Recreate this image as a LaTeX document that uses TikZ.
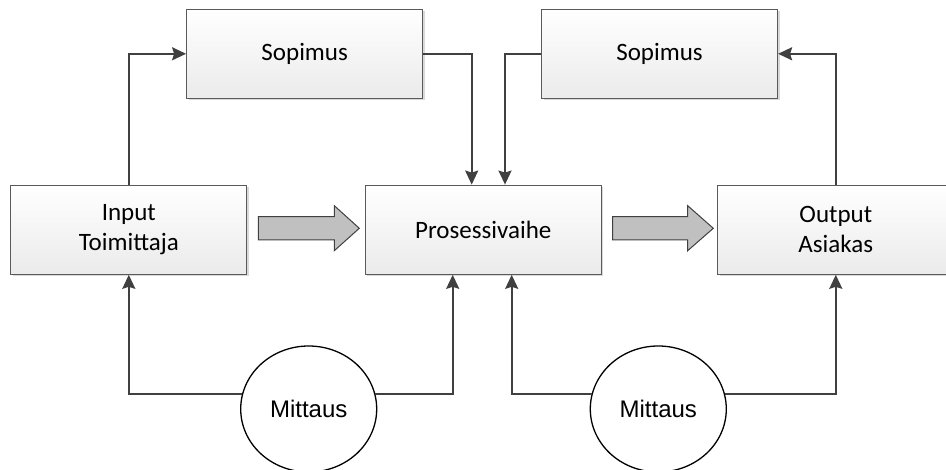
\documentclass[tikz,border=0pt]{standalone}
\usepackage{fontspec}
\setmainfont{Carlito}
\newfontfamily\arialfont{Liberation Sans}
\usetikzlibrary{arrows.meta,shapes.geometric,shadows}
\definecolor{linegray}{HTML}{404040}
\definecolor{boxborder}{HTML}{5A5A5A}
\definecolor{arrowfill}{HTML}{C0C0C0}
\tikzset{
  stagebox/.style={draw=boxborder, line width=1.2pt, top color=white, bottom color=black!8,
    minimum width=236pt, minimum height=89pt, inner sep=0pt, align=center,
    font=\fontsize{25}{30}\selectfont,
    drop shadow={shadow xshift=2pt, shadow yshift=-2pt, fill=black!25, opacity=0.6}},
  meter/.style={ellipse, draw=black, line width=1.3pt, fill=white,
    minimum width=136pt, minimum height=126pt, inner sep=0pt,
    font=\arialfont\fontsize{24}{28}\selectfont},
  flow/.style={draw=linegray, line width=2pt, -{Stealth[length=14pt,width=13pt,inset=2pt]}},
  blockarrow/.style={draw=linegray, line width=1pt, fill=arrowfill, line join=miter}
}
\begin{document}
\begin{tikzpicture}[x=1pt,y=-1pt]
\useasboundingbox (0,0) rectangle (946,470);
\clip (0,0) rectangle (946,470);

% stage boxes
\node[stagebox] (sopL) at (304.7,53.8) {Sopimus};
\node[stagebox] (sopR) at (659.5,53.8) {Sopimus};
\node[stagebox] (inp)  at (128.8,229.7) {Input\\Toimittaja};
\node[stagebox] (proc) at (483.3,229.7) {Prosessivaihe};
\node[stagebox] (outp) at (835.8,229.7) {Output\\Asiakas};

% measurement circles
\node[meter] (m1) at (308.7,409) {Mittaus};
\node[meter] (m2) at (658.3,409) {Mittaus};

% block arrows between stages
\draw[blockarrow] (258.3,216.7) -- (334.3,216.7) -- (334.3,205.7) -- (359.3,228.3)
  -- (334.3,250.7) -- (334.3,240) -- (258.3,240) -- cycle;
\draw[blockarrow] (612.7,216.7) -- (687.7,216.7) -- (687.7,205.7) -- (713.3,228.3)
  -- (687.7,250.7) -- (687.7,240) -- (612.7,240) -- cycle;

% contract connectors
\coordinate (pinL) at ([xshift=-11.6pt]proc.north);
\coordinate (pinR) at ([xshift=21.7pt]proc.north);
\draw[flow] (inp.north) |- (sopL.west);
\draw[flow] (sopL.east) -| (pinL);
\draw[flow] (sopR.west) -| (pinR);
\draw[flow] (outp.north) |- (sopR.east);

% measurement connectors
\coordinate (pbL) at ([xshift=-30.6pt]proc.south);
\coordinate (pbR) at ([xshift=28.4pt]proc.south);
\draw[flow] (m1.167) -| (inp.south);
\draw[flow] (m1.13) -| (pbL);
\draw[flow] (m2.167) -| (pbR);
\draw[flow] (m2.13) -| (outp.south);
\end{tikzpicture}
\end{document}
